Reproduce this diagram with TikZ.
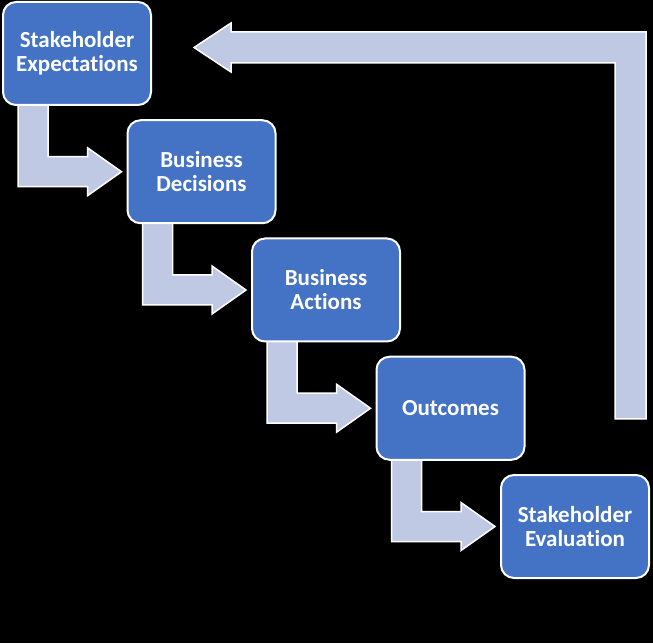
\documentclass[tikz,border=0pt]{standalone}
\usepackage{fontspec}
\setmainfont{Carlito}[Ligatures=NoCommon]
\usetikzlibrary{positioning,calc,backgrounds}
\definecolor{boxblue}{RGB}{68,114,196}
\definecolor{arrowblue}{RGB}{191,201,228}
\tikzset{
  stage/.style={draw=white, line width=2pt, fill=boxblue, rounded corners=13pt,
    minimum width=148pt, minimum height=103pt, inner sep=0pt, align=center,
    text=white, font=\bfseries\fontsize{23}{24}\selectfont},
  flow/.style={draw=white, line width=1.5pt, fill=arrowblue, line join=miter},
}

\begin{document}
\begin{tikzpicture}[x=1pt,y=1pt]
\useasboundingbox (0,0) rectangle (653,643);

\node[stage] (a) at (77,589.5) {Stakeholder\\Expectations};
\node[stage, below right=13.25pt and -25.5pt of a] (b) {Business\\Decisions};
\node[stage, below right=13.25pt and -25.5pt of b] (c) {Business\\Actions};
\node[stage, below right=13.25pt and -25.5pt of c] (d) {Outcomes};
\node[stage, below right=13.25pt and -25.5pt of d] (e) {Stakeholder\\Evaluation};

\begin{scope}[on background layer]
\fill[black] (0,0) rectangle (653,643);
% stair arrows
\foreach \from/\to in {a/b,b/c,c/d,d/e}
  \draw[flow] let \p1=(\from.south west), \p2=(\to.west) in
    (\x1+16pt,\y1+6pt) -- (\x1+16pt,\y2-15pt) -- (\x2-39pt,\y2-15pt)
    -- (\x2-39pt,\y2-24pt) -- (\x2-5pt,\y2) -- (\x2-39pt,\y2+24pt)
    -- (\x2-39pt,\y2+15pt) -- (\x1+46pt,\y2+15pt) -- (\x1+46pt,\y1+6pt) -- cycle;
% return arrow
\draw[flow] let \p1=(e.north east), \p2=(a.east), \p3=($(a.center)+(0,6)$) in
  (\x1-35pt,\y1+55pt) -- (\x1-35pt,\y3-15.5pt) -- (\x2+79pt,\y3-15.5pt)
  -- (\x2+79pt,\y3-24.5pt) -- (\x2+42pt,\y3) -- (\x2+79pt,\y3+24.5pt)
  -- (\x2+79pt,\y3+15.5pt) -- (\x1-4pt,\y3+15.5pt) -- (\x1-4pt,\y1+55pt) -- cycle;
\end{scope}
\end{tikzpicture}
\end{document}
